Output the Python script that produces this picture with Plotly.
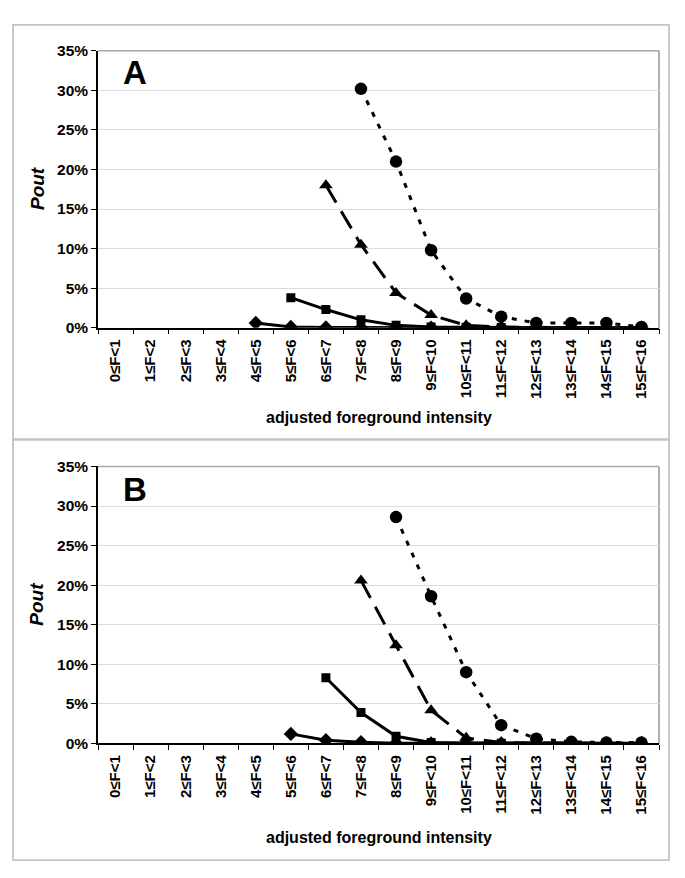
import plotly.graph_objects as go

# Page is rendered inside a body with an 8px default margin
OFF = 8
W, H = 669, 862

categories = [f"{i}≤F<{i+1}" for i in range(16)]
y_ticks = [0, 0.05, 0.10, 0.15, 0.20, 0.25, 0.30, 0.35]

# Panel A (fractions)
a_circle = [None]*7 + [0.302, 0.210, 0.098, 0.037, 0.014, 0.006, 0.006, 0.006, 0.001]
a_triangle = [None]*6 + [0.180, 0.105, 0.044, 0.016, 0.003, 0.001, 0.0005, 0.0003, 0.0002, 0.0001]
a_square = [None]*5 + [0.038, 0.023, 0.010, 0.003, 0.001, 0.0005, 0.0002, 0.0001, 0.0001, 0.0001, 0.0001]
a_diamond = [None]*4 + [0.006, 0.001, 0.0003, 0.0002, 0.0001, 0.0001, 0.0001, 0.0, 0.0, 0.0, 0.0, 0.0]

# Panel B (fractions)
b_circle = [None]*8 + [0.286, 0.186, 0.090, 0.023, 0.006, 0.002, 0.001, 0.001]
b_triangle = [None]*7 + [0.206, 0.124, 0.042, 0.007, 0.001, 0.0005, 0.0003, 0.0002, 0.0001]
b_square = [None]*6 + [0.083, 0.039, 0.009, 0.001, 0.0005, 0.0002, 0.0001, 0.0001, 0.0001, 0.0001]
b_diamond = [None]*5 + [0.012, 0.004, 0.0015, 0.0003, 0.0001, 0.0001, 0.0, 0.0, 0.0, 0.0, 0.0]

FONT = "Liberation Sans, Arial, sans-serif"

def px_x(x):
    return (x - OFF) / W

def px_y(y):
    return 1 - (y - OFF) / H

fig = go.Figure()

styles = [
    ("circle", "5px,8px", 12.5),
    ("triangle-up", "20px,10px", 12),
    ("square", "solid", 9),
    ("diamond", "solid", 11),
]

panels = [
    ("x", "y", [a_circle, a_triangle, a_square, a_diamond]),
    ("x2", "y2", [b_circle, b_triangle, b_square, b_diamond]),
]

for xa, ya, series in panels:
    for (sym, dash, msize), vals in zip(styles, series):
        fig.add_trace(go.Scatter(
            x=categories, y=vals, xaxis=xa, yaxis=ya, mode="lines+markers",
            line=dict(color="black", width=3, dash=dash),
            marker=dict(symbol=sym, size=msize, color="black"),
            connectgaps=False, showlegend=False, hoverinfo="skip",
        ))

x_dom = [px_x(98), px_x(659)]
dom_a = [px_y(325), px_y(42.5)]
dom_b = [px_y(749), px_y(466.5)]

xaxis_common = dict(
    type="category", categoryorder="array", categoryarray=categories,
    range=[-0.5, 15.5], showline=True, linecolor="black", linewidth=1.5,
    ticks="outside", tickson="boundaries", ticklen=5, tickcolor="black", tickwidth=1.2,
    tickangle=-90, showgrid=False, zeroline=False, ticklabelstandoff=4,
    tickfont=dict(family=FONT, size=15, color="black", weight="bold"),
    domain=x_dom,
)
yaxis_common = dict(
    range=[0, 0.35], tickvals=y_ticks, tickformat=".0%",
    showline=True, linecolor="black", linewidth=1.5,
    ticks="outside", ticklen=5, tickcolor="black", tickwidth=1.2,
    showgrid=True, gridcolor="#dcdcdc", gridwidth=1.2, zeroline=False,
    tickfont=dict(family=FONT, size=15.5, color="black", weight="bold"),
)

fig.update_layout(
    width=W, height=H, margin=dict(l=0, r=0, t=0, b=0),
    paper_bgcolor="white", plot_bgcolor="white",
    xaxis=dict(**xaxis_common, anchor="y"),
    yaxis=dict(**yaxis_common, domain=dom_a, anchor="x"),
    xaxis2=dict(**xaxis_common, anchor="y2"),
    yaxis2=dict(**yaxis_common, domain=dom_b, anchor="x2"),
)

shapes = []
# outer panel boxes
for top, bot in [(16, 439), (439, 868)]:
    shapes.append(dict(type="rect", xref="paper", yref="paper",
                       x0=px_x(13), x1=px_x(669), y0=px_y(bot), y1=px_y(top),
                       line=dict(color="#c4c4c4", width=1.8), layer="below"))
# plot area borders (top & right in gray)
for dom in [dom_a, dom_b]:
    shapes.append(dict(type="line", xref="paper", yref="paper",
                       x0=x_dom[0], x1=x_dom[1], y0=dom[1], y1=dom[1],
                       line=dict(color="#a8a8a8", width=1.5), layer="below"))
    shapes.append(dict(type="line", xref="paper", yref="paper",
                       x0=x_dom[1], x1=x_dom[1], y0=dom[0], y1=dom[1],
                       line=dict(color="#a8a8a8", width=1.8), layer="below"))
fig.update_layout(shapes=shapes)

annotations = []
for letter, cy, pout_y, title_y in [("A", 65, 183.5, 417), ("B", 490, 607.5, 845)]:
    annotations.append(dict(text=letter, xref="paper", yref="paper",
                            x=px_x(135), y=px_y(cy), showarrow=False,
                            xanchor="center", yanchor="middle",
                            font=dict(family=FONT, size=33, color="black", weight="bold")))
    annotations.append(dict(text="<i>Pout</i>", xref="paper", yref="paper",
                            x=px_x(37), y=px_y(pout_y), showarrow=False, textangle=-90,
                            xanchor="center", yanchor="middle",
                            font=dict(family=FONT, size=19, color="black", weight="bold")))
    annotations.append(dict(text="adjusted foreground intensity", xref="paper", yref="paper",
                            x=(x_dom[0] + x_dom[1]) / 2, y=px_y(title_y), showarrow=False,
                            xanchor="center", yanchor="middle",
                            font=dict(family=FONT, size=16, color="black", weight="bold")))
fig.update_layout(annotations=annotations)

fig.write_html("out.html")
